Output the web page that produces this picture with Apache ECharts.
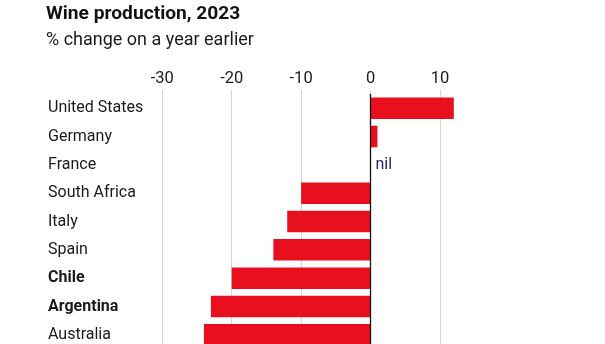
<!DOCTYPE html>
<html><head><meta charset="utf-8">
<script src="https://cdn.jsdelivr.net/npm/echarts@6/dist/echarts.min.js"></script>
<style>html,body{margin:0;padding:0;background:#fff}#c{width:605px;height:344px}</style>
</head><body><div id="c"></div>
<script>
const categories = ["United States","Germany","France","South Africa","Italy","Spain","Chile","Argentina","Australia"];
const boldCategories = ["Chile","Argentina"];
const values = [12, 1, 0, -10, -12, -14, -20, -23, -24];
const tickValues = [-30, -20, -10, 0, 10];
const zeroLabel = "nil";

const chart = echarts.init(document.getElementById('c'), null, {renderer:'canvas'});
const FONT = 'Roboto';
const TXT = '#1a1a1a';
chart.setOption({
  animation:false,
  title:{
    text:'Wine production, 2023',
    subtext:'% change on a year earlier',
    left:41, top:0, itemGap:7,
    textStyle:{fontFamily:FONT, fontSize:19.2, fontWeight:'bold', color:'#121212'},
    subtextStyle:{fontFamily:FONT, fontSize:18, color:'#1a1a1a'}
  },
  grid:{left:162.3, right:151.2, top:94, height:255, containLabel:false, outerBoundsMode:'none'},
  xAxis:{
    type:'value', position:'top', min:-30, max:12,
    axisLine:{show:false},
    axisTick:{show:true, length:4, customValues:tickValues, lineStyle:{color:'#cfcfcf'}},
    axisLabel:{customValues:tickValues, margin:7, fontFamily:FONT, fontSize:16.5, color:TXT},
    splitLine:{show:true, lineStyle:{color:'#d4d4d4', width:1}}
  },
  yAxis:{
    type:'category', data:categories, inverse:true,
    axisLine:{show:false, onZero:false}, axisTick:{show:false},
    axisLabel:{
      align:'left', margin:114.3, fontFamily:FONT, fontSize:16, color:TXT,
      formatter:v=> boldCategories.includes(v) ? '{b|'+v+'}' : v,
      rich:{b:{fontFamily:FONT, fontSize:16, fontWeight:'bold', color:TXT}}
    }
  },
  series:[{
    type:'bar', data:values, barCategoryGap:'24%',
    itemStyle:{color:'#e8101e'},
    label:{show:true, position:'right', distance:5, fontFamily:FONT, fontSize:16, color:'#23266b',
      formatter:p=> p.value===0 ? zeroLabel : ''},
    markLine:{silent:true, symbol:'none', label:{show:false},
      lineStyle:{color:'#111', type:'solid', width:1.3},
      data:[{xAxis:0}]}
  }]
});
</script></body></html>
